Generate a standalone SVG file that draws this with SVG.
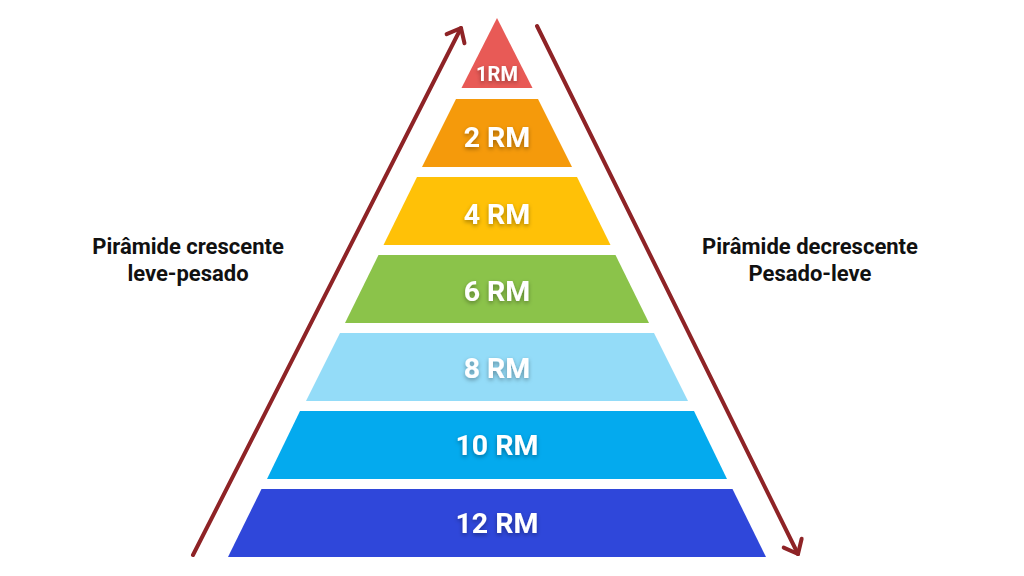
<svg xmlns="http://www.w3.org/2000/svg" width="1024" height="576" viewBox="0 0 1024 576">
<defs>
<filter id="sh" x="-20%" y="-30%" width="140%" height="160%">
<feDropShadow dx="0" dy="2" stdDeviation="2" flood-color="#000" flood-opacity="0.35"/>
</filter>
<marker id="chev" markerUnits="userSpaceOnUse" markerWidth="30" markerHeight="30" refX="0" refY="0" viewBox="-15 -15 30 30" orient="auto" overflow="visible">
<path d="M -12 -10 L 0 0 L -12 10" fill="none" stroke="#8E2326" stroke-width="4" stroke-linecap="round" stroke-linejoin="round"/>
</marker>
<style>
.lbl{font-family:Roboto,"Liberation Sans",sans-serif;font-weight:700;fill:#fff;text-anchor:middle;font-size:28.5px;filter:url(#sh)}
.side{font-family:Roboto,"Liberation Sans",sans-serif;font-weight:700;fill:#111;text-anchor:middle;font-size:22px}
.arr{fill:none;stroke:#8E2326;stroke-width:4;stroke-linecap:round;marker-end:url(#chev)}
</style>
</defs>
<rect width="1024" height="576" fill="#fff"/>
<g id="connectors">
<line class="arr" x1="193" y1="555" x2="461" y2="28"/>
<line class="arr" x1="537" y1="26" x2="798" y2="554"/>
</g>
<g id="level-1rm">
<polygon points="497,18 532.5,88 461.5,88" fill="#E85A56"/>
<text class="lbl" x="497" y="81" style="font-size:20px">1RM</text>
</g>
<g id="level-2rm">
<polygon points="456,99 538,99 572,167 422,167" fill="#F59A0B"/>
<text class="lbl" x="497" y="147">2 RM</text>
</g>
<g id="level-4rm">
<polygon points="417,177 577,177 610.5,245 383.5,245" fill="#FFC107"/>
<text class="lbl" x="497" y="224">4 RM</text>
</g>
<g id="level-6rm">
<polygon points="378.5,255 615.5,255 649,323 345,323" fill="#8BC34A"/>
<text class="lbl" x="497" y="301">6 RM</text>
</g>
<g id="level-8rm">
<polygon points="340,333 654,333 688,401 306,401" fill="#94DCF8"/>
<text class="lbl" x="497" y="378">8 RM</text>
</g>
<g id="level-10rm">
<polygon points="300,411 694,411 727,479 267,479" fill="#04AAEE"/>
<text class="lbl" x="497" y="455">10 RM</text>
</g>
<g id="level-12rm">
<polygon points="261.5,489 732.5,489 766,557 228,557" fill="#2F47DA"/>
<text class="lbl" x="497" y="533">12 RM</text>
</g>
<g id="label-left">
<text class="side" x="188" y="254">Pirâmide crescente</text>
<text class="side" x="188" y="281">leve-pesado</text>
</g>
<g id="label-right">
<text class="side" x="810" y="254">Pirâmide decrescente</text>
<text class="side" x="810" y="281">Pesado-leve</text>
</g>
</svg>
